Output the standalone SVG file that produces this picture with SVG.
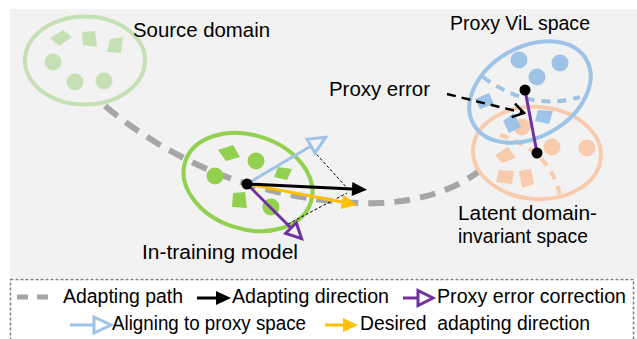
<svg xmlns="http://www.w3.org/2000/svg" width="637" height="339" viewBox="0 0 637 339">
  <style>
    .lbl { font-family: "Liberation Sans", Arial, sans-serif; font-size: 20.5px; fill: #000; }
    .leg { font-family: "Liberation Sans", Arial, sans-serif; font-size: 19.5px; fill: #000; white-space: pre; }
    .src { fill: #c5e0b4; }
    .srcRing { fill: none; stroke: #c5e0b4; stroke-width: 4; }
    .cur { fill: #92d050; }
    .curRing { fill: none; stroke: #92d050; stroke-width: 4; }
    .pxy { fill: #9dc3e6; }
    .pxyRing { fill: none; stroke: #9dc3e6; stroke-width: 4; }
    .lat { fill: #f8cbad; }
    .latRing { fill: none; stroke: #f8cbad; stroke-width: 4; }
    .path { fill: none; stroke: #a6a6a6; stroke-width: 6; stroke-dasharray: 16 10; }
    .blk { stroke: #000; stroke-width: 3; fill: none; }
    .blu { stroke: #9dc3e6; stroke-width: 3; fill: none; }
    .yel { stroke: #ffc000; stroke-width: 3; fill: none; }
    .pur { stroke: #7030a0; stroke-width: 3; fill: none; }
    .guide { stroke: #000; stroke-width: 1; stroke-dasharray: 3 2; fill: none; }
    .dot { fill: #000; }
  </style>
  <defs>
    <marker id="hBlk" markerUnits="userSpaceOnUse" markerWidth="20" markerHeight="20" refX="0" refY="0" orient="auto" overflow="visible">
      <path d="M0,-7 L15,0 L0,7 Z" fill="#000"/>
    </marker>
    <marker id="hYel" markerUnits="userSpaceOnUse" markerWidth="20" markerHeight="20" refX="0" refY="0" orient="auto" overflow="visible">
      <path d="M0,-7 L15,0 L0,7 Z" fill="#ffc000"/>
    </marker>
    <marker id="hBlu" markerUnits="userSpaceOnUse" markerWidth="24" markerHeight="24" refX="0" refY="0" orient="auto" overflow="visible">
      <path d="M0,-8 L17,0 L0,8 Z" fill="none" stroke="#9dc3e6" stroke-width="3"/>
    </marker>
    <marker id="hPur" markerUnits="userSpaceOnUse" markerWidth="24" markerHeight="24" refX="0" refY="0" orient="auto" overflow="visible">
      <path d="M0,-7.5 L15,0 L0,7.5 Z" fill="none" stroke="#7030a0" stroke-width="3"/>
    </marker>
    <marker id="hChev" markerUnits="userSpaceOnUse" markerWidth="20" markerHeight="20" refX="0" refY="0" orient="auto" overflow="visible">
      <path d="M-11,-7 L0,0 L-11,7" fill="none" stroke="#000" stroke-width="2.5"/>
    </marker>
  </defs>

  <!-- canvas -->
  <rect x="10" y="9" width="627" height="269" fill="#f2f2f2"/>

  <!-- source domain -->
  <g id="source-domain">
    <ellipse class="srcRing" cx="85" cy="60.5" rx="60" ry="44"/>
    <polygon class="src" points="50,38 63,30 72,37 59,46"/>
    <polygon class="src" points="82,32 95,31 97,47 83,45"/>
    <polygon class="src" points="110,39 123,37 121,53 107,52"/>
    <circle class="src" cx="53" cy="62" r="8.5"/>
    <circle class="src" cx="75" cy="82" r="8.5"/>
    <circle class="src" cx="104" cy="81" r="8.5"/>
  </g>

  <!-- adapting path -->
  <g id="connectors">
    <path class="path" d="M105,106 Q170,160 250,185 Q320,205 380,203 Q440,200 478,172"/>
  </g>

  <!-- latent domain-invariant space -->
  <g id="latent-space">
    <ellipse class="latRing" cx="537" cy="153" rx="64" ry="46" transform="rotate(4 537 153)"/>
    <circle class="lat" cx="522" cy="127" r="8.5"/>
    <circle class="lat" cx="552" cy="147" r="8.5"/>
    <circle class="lat" cx="587" cy="148" r="8.5"/>
    <polygon class="lat" points="495,155 508,147 516,158 502,163"/>
    <polygon class="lat" points="499,170 514,171 512,184 496,182"/>
    <polygon class="lat" points="519,171 531,169 534,184 522,188"/>
    <path class="latRing" d="M500,135 Q550,150 560,195" stroke-width="2.5" stroke-dasharray="9 7"/>
  </g>

  <!-- proxy ViL space -->
  <g id="proxy-space">
    <ellipse class="pxyRing" cx="530" cy="92" rx="65" ry="45" transform="rotate(-30 530 92)"/>
    <circle class="pxy" cx="519" cy="60" r="8.5"/>
    <circle class="pxy" cx="560" cy="63" r="8.5"/>
    <circle class="pxy" cx="537" cy="77" r="8.5"/>
    <polygon class="pxy" points="475,99 489,93 494,104 480,109"/>
    <polygon class="pxy" points="503,121 514,113 521,127 509,133"/>
    <polygon class="pxy" points="538,110 553,111 549,124 535,121"/>
    <path class="pxyRing" d="M483,77 Q530,112 580,97" stroke-width="2.5" stroke-dasharray="9 7"/>
  </g>

  <!-- proxy error -->
  <g id="proxy-error">
    <line class="pur" x1="525" y1="90" x2="537" y2="153"/>
    <circle class="dot" cx="525" cy="90" r="5.5"/>
    <circle class="dot" cx="537" cy="153" r="5.5"/>
    <line x1="447" y1="94" x2="524" y2="113" stroke="#000" stroke-width="2.5" stroke-dasharray="9 6" marker-end="url(#hChev)"/>
  </g>

  <!-- in-training model -->
  <g id="in-training-model">
    <ellipse class="curRing" cx="248" cy="182" rx="66" ry="47" transform="rotate(18 248 182)"/>
    <polygon class="cur" points="218,150 233,145 240,157 226,161"/>
    <circle class="cur" cx="256" cy="161" r="8.5"/>
    <circle class="cur" cx="215" cy="176" r="8.5"/>
    <polygon class="cur" points="278,167 292,169 287,180 274,177"/>
    <polygon class="cur" points="233,193 245,192 247,208 232,207"/>
    <circle class="cur" cx="271" cy="207" r="8.5"/>
    <!-- parallelogram guides -->
    <line class="guide" x1="310" y1="147" x2="347" y2="188"/>
    <line class="guide" x1="288" y1="224" x2="347" y2="193"/>
    <!-- direction vectors -->
    <line class="blu" x1="247" y1="184" x2="311" y2="146" marker-end="url(#hBlu)"/>
    <line class="pur" x1="247" y1="184" x2="291" y2="228" marker-end="url(#hPur)"/>
    <line class="yel" x1="247" y1="184" x2="342" y2="202" marker-end="url(#hYel)"/>
    <line class="blk" x1="247" y1="184" x2="352" y2="189" marker-end="url(#hBlk)"/>
    <circle class="dot" cx="247" cy="184" r="5.5"/>
  </g>

  <!-- labels -->
  <text class="lbl" x="133" y="37" textLength="137" lengthAdjust="spacingAndGlyphs">Source domain</text>
  <text class="lbl" x="450" y="30" textLength="140" lengthAdjust="spacingAndGlyphs">Proxy ViL space</text>
  <text class="lbl" x="329" y="96" textLength="101" lengthAdjust="spacingAndGlyphs">Proxy error</text>
  <text class="lbl" x="142" y="259" textLength="156" lengthAdjust="spacingAndGlyphs">In-training model</text>
  <text class="lbl" x="458" y="220" textLength="139" lengthAdjust="spacingAndGlyphs">Latent domain-</text>
  <text class="lbl" x="458" y="243" textLength="130" lengthAdjust="spacingAndGlyphs">invariant space</text>

  <!-- legend -->
  <g id="legend">
    <rect x="10.5" y="279.5" width="623" height="70" fill="#fff" stroke="#7f7f7f" stroke-width="1.5" stroke-dasharray="3 2"/>
    <line x1="17" y1="297" x2="55" y2="297" stroke="#a6a6a6" stroke-width="5" stroke-dasharray="11 9"/>
    <text class="leg" x="63" y="303" textLength="120" lengthAdjust="spacingAndGlyphs">Adapting path</text>
    <line class="blk" x1="197" y1="298" x2="216" y2="298" marker-end="url(#hBlk)"/>
    <text class="leg" x="232" y="303" textLength="157" lengthAdjust="spacingAndGlyphs">Adapting direction</text>
    <line class="pur" x1="403" y1="298" x2="418" y2="298" marker-end="url(#hPur)"/>
    <text class="leg" x="437" y="303" textLength="189" lengthAdjust="spacingAndGlyphs">Proxy error correction</text>
    <line class="blu" x1="70" y1="325" x2="94" y2="325" marker-end="url(#hBlu)"/>
    <text class="leg" x="112" y="330" textLength="194" lengthAdjust="spacingAndGlyphs">Aligning to proxy space</text>
    <line class="yel" x1="325" y1="325" x2="343" y2="325" marker-end="url(#hYel)"/>
    <text class="leg" x="360" y="330" textLength="230" lengthAdjust="spacingAndGlyphs">Desired  adapting direction</text>
  </g>
</svg>
